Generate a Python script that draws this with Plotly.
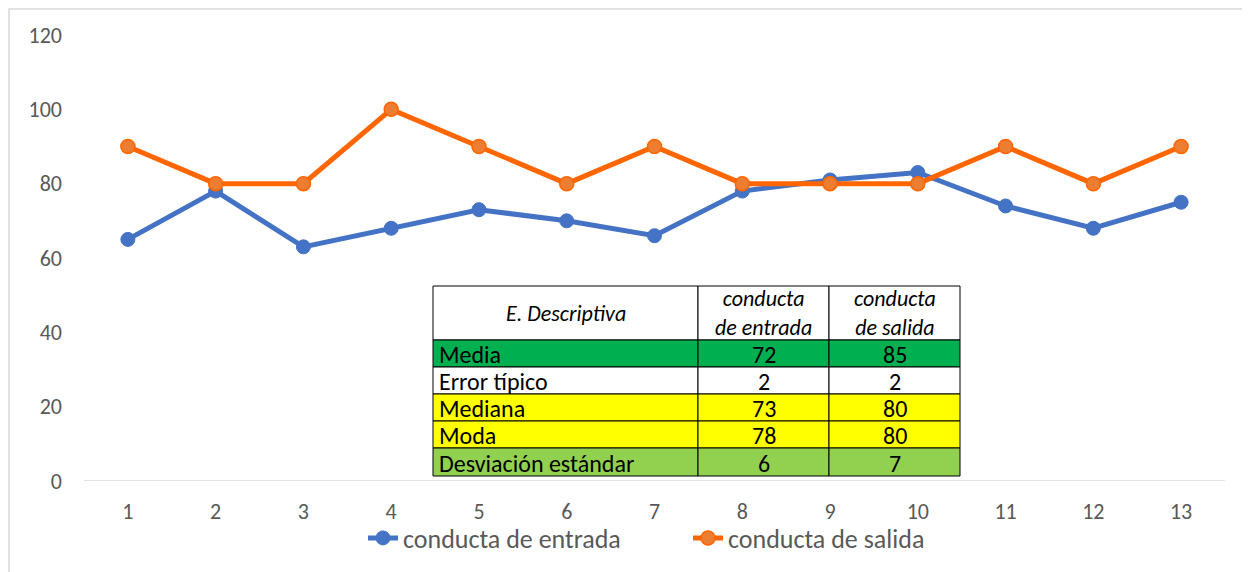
import plotly.graph_objects as go

x = list(range(1, 14))
entrada = [65, 78, 63, 68, 73, 70, 66, 78, 81, 83, 74, 68, 75]
salida = [90, 80, 80, 100, 90, 80, 90, 80, 80, 80, 90, 80, 90]

tbl_header = ["E. Descriptiva", "conducta<br>de entrada", "conducta<br>de salida"]
tbl_stats = ["Media", "Error típico", "Mediana", "Moda", "Desviación estándar"]
tbl_entrada = [72, 2, 73, 78, 6]
tbl_salida = [85, 2, 80, 80, 7]
row_colors = ["#00B050", "#FFFFFF", "#FFFF00", "#FFFF00", "#92D050"]

FONT = "Carlito, Lato, sans-serif"
OFF = 8  # page body margin
W, H = 1250 - OFF, 572 - OFF
# plot area in page pixels: x 84..1225, y 35..481
L, R, T, B = 84 - OFF, W - (1225 - OFF), 35 - OFF, H - (481 - OFF)
PW, PH = W - L - R, H - T - B

def px(xp):
    return (xp - OFF - L) / PW

def py(yp):
    return (H - B - (yp - OFF)) / PH

fig = go.Figure()
fig.add_trace(go.Scatter(
    x=x, y=entrada, mode="lines+markers", name="conducta de entrada",
    line=dict(color="#4472C4", width=5),
    marker=dict(size=14, color="#4472C4", line=dict(color="#4472C4", width=1)),
))
fig.add_trace(go.Scatter(
    x=x, y=salida, mode="lines+markers", name="conducta de salida",
    line=dict(color="#FF6600", width=5),
    marker=dict(size=14, color="#ED7D31", line=dict(color="#FF6600", width=1.5)),
))

# table layout (page pixel geometry)
col_x = [433, 698, 829, 960]
row_y = [286, 340, 367, 394, 421, 448, 476]
shapes = []
annotations = []
for c in range(3):
    shapes.append(dict(type="rect", xref="paper", yref="paper",
                       x0=px(col_x[c]), x1=px(col_x[c + 1]), y0=py(row_y[1]), y1=py(row_y[0]),
                       fillcolor="#FFFFFF", line=dict(color="#000000", width=1), layer="above"))
    annotations.append(dict(xref="paper", yref="paper", showarrow=False,
                            x=px((col_x[c] + col_x[c + 1]) / 2), y=py((row_y[0] + row_y[1]) / 2),
                            xanchor="center", yanchor="middle", align="center",
                            text="<i>" + tbl_header[c] + "</i>",
                            font=dict(family=FONT, size=22, color="#000000")))
for r in range(len(tbl_stats)):
    vals = [tbl_stats[r], str(tbl_entrada[r]), str(tbl_salida[r])]
    for c in range(3):
        shapes.append(dict(type="rect", xref="paper", yref="paper",
                           x0=px(col_x[c]), x1=px(col_x[c + 1]), y0=py(row_y[r + 2]), y1=py(row_y[r + 1]),
                           fillcolor=row_colors[r], line=dict(color="#000000", width=1), layer="above"))
        if c == 0:
            ax, anch = px(col_x[0] + 4), "left"
        else:
            ax, anch = px((col_x[c] + col_x[c + 1]) / 2), "center"
        annotations.append(dict(xref="paper", yref="paper", showarrow=False,
                                x=ax, y=py((row_y[r + 1] + row_y[r + 2]) / 2 + 1),
                                xanchor=anch, yanchor="middle",
                                text=vals[c],
                                font=dict(family=FONT, size=24, color="#000000")))

shapes.insert(0, dict(type="line", xref="paper", yref="y", x0=0, x1=1, y0=0, y1=0,
                      line=dict(color="#D9D9D9", width=1.5), layer="below"))
shapes.insert(0, dict(type="rect", xref="paper", yref="paper",
                      x0=px(9), x1=px(1265), y0=py(590), y1=py(9),
                      line=dict(color="#D9D9D9", width=1.5), fillcolor="rgba(0,0,0,0)", layer="below"))

fig.update_layout(
    width=W, height=H,
    margin=dict(l=L, r=R, t=T, b=B, autoexpand=False),
    paper_bgcolor="#FFFFFF", plot_bgcolor="#FFFFFF",
    font=dict(family=FONT, color="#595959"),
    showlegend=True,
    legend=dict(
        orientation="h", x=px(363), xanchor="left", y=py(538), yanchor="middle",
        font=dict(family=FONT, size=26, color="#595959"),
        bgcolor="rgba(0,0,0,0)", entrywidth=280, tracegroupgap=0,
    ),
    xaxis=dict(
        range=[0.5, 13.5], tickmode="array", tickvals=x, ticktext=[str(v) for v in x],
        showgrid=False, zeroline=False, showline=False, ticks="",
        tickfont=dict(family=FONT, size=22, color="#595959"),
        ticklabelstandoff=15,
    ),
    yaxis=dict(
        range=[0, 120], tickvals=[0, 20, 40, 60, 80, 100, 120],
        showgrid=False, zeroline=False, showline=False, ticks="",
        tickfont=dict(family=FONT, size=22, color="#595959"),
        ticklabelstandoff=21,
    ),
    shapes=shapes,
    annotations=annotations,
)

fig.write_html("out.html")
